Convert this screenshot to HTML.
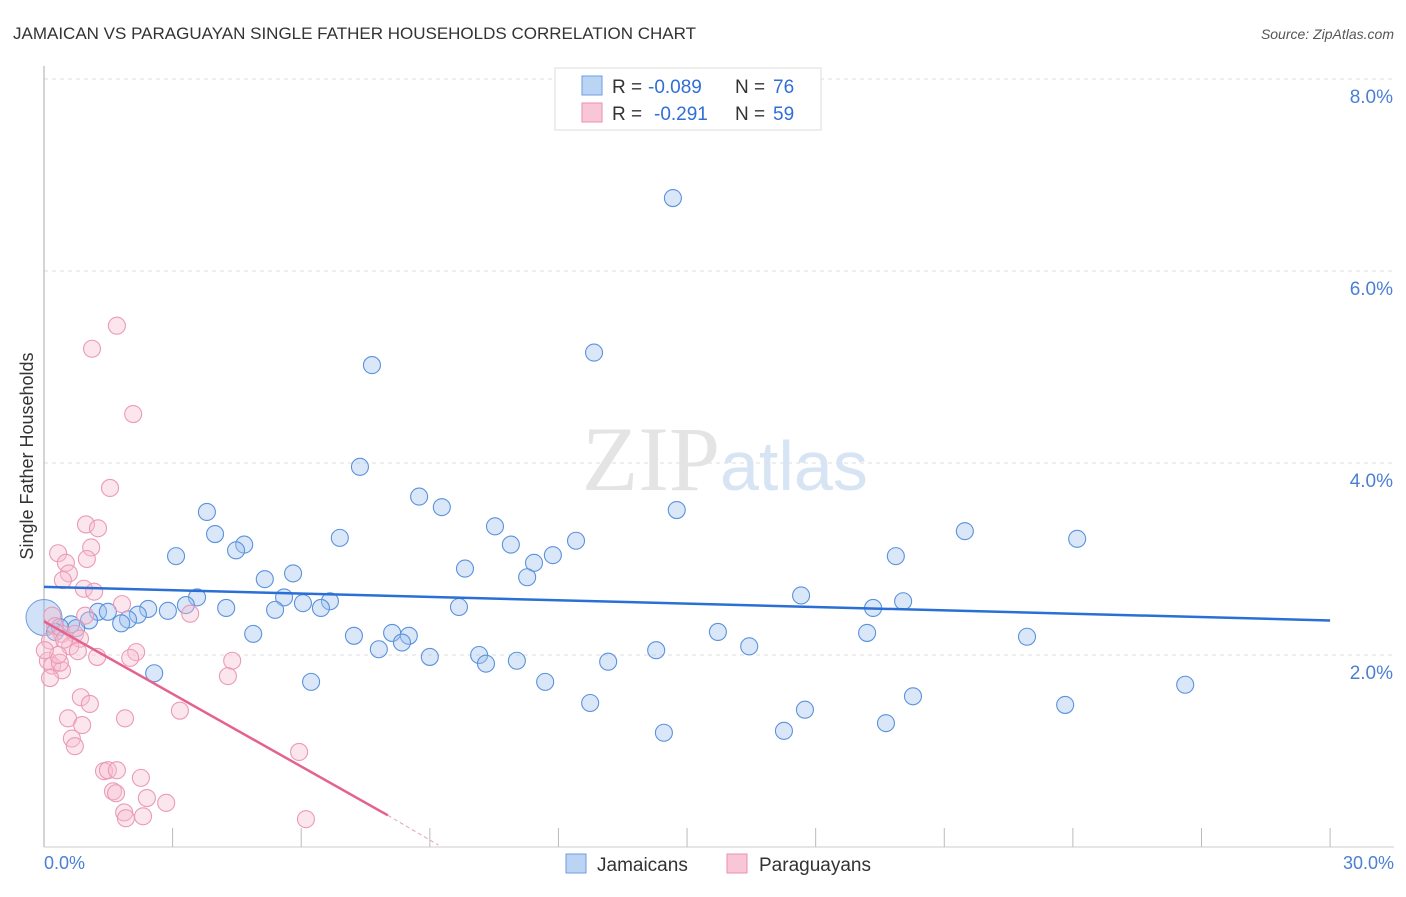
<!DOCTYPE html>
<html><head><meta charset="utf-8"><style>
body{margin:0;background:#fff;font-family:"Liberation Sans",sans-serif}
</style></head><body>
<svg width="1406" height="892" xmlns="http://www.w3.org/2000/svg" font-family="Liberation Sans, sans-serif">
<text x="13" y="39" font-size="17" fill="#333">JAMAICAN VS PARAGUAYAN SINGLE FATHER HOUSEHOLDS CORRELATION CHART</text>
<text x="1394" y="39" font-size="14" fill="#555" text-anchor="end" font-style="italic">Source: ZipAtlas.com</text>
<g id="grid"></g>
<text x="720" y="490" font-size="92" fill="#e4e4e4" text-anchor="end" font-family="Liberation Serif, serif">ZIP</text>
<text x="720" y="490" font-size="70" fill="#d6e4f3">atlas</text>
<line x1="44" y1="66" x2="44" y2="847" stroke="#aaa"/>
<line x1="44" y1="847" x2="1394" y2="847" stroke="#ccc"/>
<g id="ticks"></g>
<g id="pts"></g>
<g id="trend"></g>
<text x="33" y="456" font-size="18" fill="#333" text-anchor="middle" transform="rotate(-90 33 456)">Single Father Households</text>
<text x="44" y="869" font-size="18" fill="#4a7fd4">0.0%</text>
<text x="1394" y="869" font-size="18" fill="#4a7fd4" text-anchor="end">30.0%</text>
<g>
<rect x="555" y="68" width="266" height="62" fill="#fff" stroke="#ddd"/>
<rect x="582" y="76" width="20" height="19" fill="#bcd4f4" stroke="#6e9ee0"/>
<rect x="582" y="103" width="20" height="19" fill="#f9c6d6" stroke="#e992b0"/>
<text x="612" y="93" font-size="19" fill="#333">R =</text>
<text x="648" y="93" font-size="19" fill="#2f6fd6">-0.089</text>
<text x="735" y="93" font-size="19" fill="#333">N =</text>
<text x="773" y="93" font-size="19" fill="#2f6fd6">76</text>
<text x="612" y="120" font-size="19" fill="#333">R =</text>
<text x="654" y="120" font-size="19" fill="#2f6fd6">-0.291</text>
<text x="735" y="120" font-size="19" fill="#333">N =</text>
<text x="773" y="120" font-size="19" fill="#2f6fd6">59</text>
</g>
<g>
<rect x="566" y="854" width="20" height="19" fill="#bcd4f4" stroke="#6e9ee0"/>
<text x="597" y="871" font-size="19" fill="#333">Jamaicans</text>
<rect x="727" y="854" width="20" height="19" fill="#f9c6d6" stroke="#e992b0"/>
<text x="759" y="871" font-size="19" fill="#333">Paraguayans</text>
</g>
</svg>
<script>
const yTicks=[2,4,6,8];
const yTickLabels=["2.0%","4.0%","6.0%","8.0%"];
const xTicks=[3,6,9,12,15,18,21,24,27,30];
const jamX=[14.67,12.83,7.65,7.37,8.75,9.28,3.8,14.76,10.52,3.99,6.9,21.48,24.1,4.67,4.48,10.89,12.41,3.08,11.87,19.87,11.43,9.82,5.81,5.15,11.27,3.57,5.6,17.66,6.67,20.04,6.04,9.68,19.34,4.25,5.39,6.46,2.43,3.31,2.89,1.26,1.49,2.19,1.96,1.05,1.8,0.63,0.37,0.26,0.75,4.88,8.12,7.23,8.51,15.72,19.2,22.93,8.35,7.81,16.45,14.28,10.15,9.0,10.31,11.03,13.16,2.57,6.23,11.69,26.62,20.27,12.74,23.82,17.75,19.64,14.46,17.26];
const jamY=[6.76,5.15,5.02,3.96,3.65,3.54,3.49,3.51,3.34,3.26,3.22,3.29,3.21,3.15,3.09,3.15,3.19,3.03,3.04,3.03,2.96,2.9,2.85,2.79,2.81,2.6,2.6,2.62,2.56,2.56,2.54,2.5,2.49,2.49,2.47,2.49,2.48,2.52,2.46,2.45,2.45,2.42,2.37,2.36,2.33,2.32,2.29,2.24,2.28,2.22,2.23,2.2,2.2,2.24,2.23,2.19,2.13,2.06,2.09,2.05,2.0,1.98,1.91,1.94,1.93,1.81,1.72,1.72,1.69,1.57,1.5,1.48,1.43,1.29,1.19,1.21];
const parX=[1.7,1.12,2.08,1.54,0.98,1.26,1.1,0.33,1.0,0.51,0.58,0.44,0.93,1.17,1.82,3.41,0.19,0.26,0.42,0.72,0.84,0.14,0.61,0.79,2.15,2.01,1.24,4.39,0.09,0.19,0.42,4.29,0.14,0.86,1.07,3.17,0.56,1.89,0.89,0.65,0.72,5.95,1.4,1.49,1.7,2.26,1.61,1.68,2.4,2.85,1.87,1.91,2.31,6.11,0.37,0.47,0.33,0.02,0.96];
const parY=[5.43,5.19,4.51,3.74,3.36,3.32,3.12,3.06,3.0,2.96,2.85,2.78,2.69,2.66,2.53,2.43,2.41,2.3,2.22,2.22,2.17,2.15,2.09,2.04,2.03,1.97,1.98,1.94,1.94,1.89,1.84,1.78,1.76,1.56,1.49,1.42,1.34,1.34,1.27,1.13,1.05,0.99,0.79,0.8,0.8,0.72,0.58,0.56,0.51,0.46,0.36,0.30,0.32,0.29,1.92,2.16,2.0,2.05,2.41];
const jamTrend=[[0,2.71],[30,2.36]];
const parTrend=[[0,2.35],[8.02,0.33]];
const parTrendDash=[[8.02,0.33],[9.2,0.02]];
const X=v=>44+v*42.87, Y=v=>847-v*96;
const NS="http://www.w3.org/2000/svg";
const mk=(t,a,p)=>{const e=document.createElementNS(NS,t);for(const k in a)e.setAttribute(k,a[k]);p.appendChild(e);return e;};
const grid=document.getElementById('grid');
yTicks.forEach((t,i)=>{
 const l=mk('line',{x1:44,x2:1394,y1:Y(t),y2:Y(t),stroke:'#ddd','stroke-dasharray':'4 4'},grid);
 
 
 const tx=mk('text',{x:1393,y:Y(t)+24,'font-size':19,fill:'#4a7fd4','text-anchor':'end'},grid);
 tx.textContent=yTickLabels[i];
 
 
});
const tk=document.getElementById('ticks');
xTicks.forEach(t=>{const l=mk('line',{x1:X(t),x2:X(t),y1:828,y2:847,stroke:'#bbb'},tk);
 
 });
const pts=document.getElementById('pts');
const bb=mk('circle',{cx:X(0),cy:Y(2.39),r:18,fill:'rgba(140,180,235,0.4)',stroke:'#6e9ee0'},pts);


jamX.forEach((x,i)=>{const c=mk('circle',{cx:X(x),cy:Y(jamY[i]),r:8.5,fill:'rgba(160,195,240,0.4)',stroke:'#5b92dc','stroke-width':1.1},pts);
 
 });
parX.forEach((x,i)=>{const c=mk('circle',{cx:X(x),cy:Y(parY[i]),r:8.5,fill:'rgba(248,190,208,0.38)',stroke:'#eb9ab6','stroke-width':1.1},pts);
 
 });
const tr=document.getElementById('trend');
const l1=mk('line',{x1:X(jamTrend[0][0]),y1:Y(jamTrend[0][1]),x2:X(jamTrend[1][0]),y2:Y(jamTrend[1][1]),stroke:'#2a6fd6','stroke-width':2.5},tr);


const l2=mk('line',{x1:X(parTrend[0][0]),y1:Y(parTrend[0][1]),x2:X(parTrend[1][0]),y2:Y(parTrend[1][1]),stroke:'#e4628e','stroke-width':2.5},tr);


const l3=mk('line',{x1:X(parTrendDash[0][0]),y1:Y(parTrendDash[0][1]),x2:X(parTrendDash[1][0]),y2:Y(parTrendDash[1][1]),stroke:'#e8a0b8','stroke-width':1,'stroke-dasharray':'4 3'},tr);


</script>
</body></html>
